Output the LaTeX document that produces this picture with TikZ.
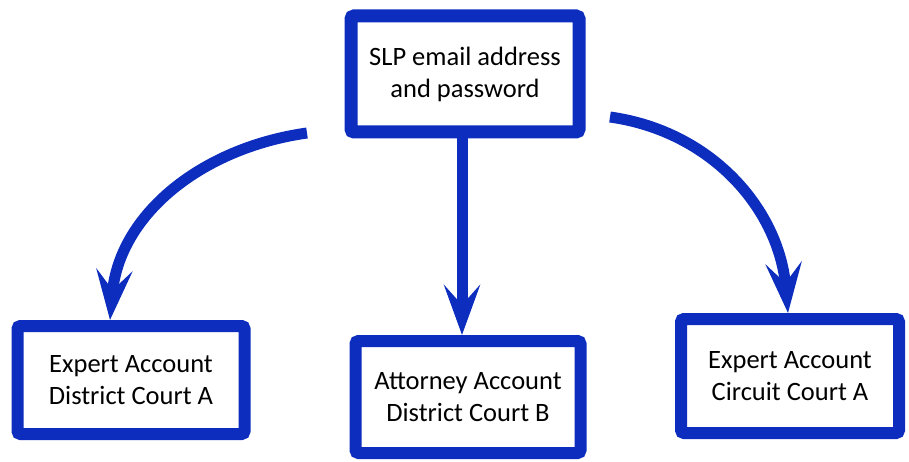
\documentclass[tikz,border=0pt]{standalone}
\usepackage{fontspec}
\setmainfont{Carlito}
\usetikzlibrary{arrows.meta}
\definecolor{penblue}{RGB}{12,45,190}
\tikzset{
  acct/.style={draw=penblue, line width=12pt, fill=white, rounded corners=3pt, align=center,
    inner sep=0pt, minimum width=227pt, minimum height=108pt, font=\fontsize{26.5}{32}\selectfont},
  flow/.style={draw=penblue, line width=11pt, -{Stealth[length=50pt,width=36pt,inset=20pt]}}
}

\begin{document}
\begin{tikzpicture}[x=1pt,y=1pt]
\useasboundingbox (0,0) rectangle (909,461);
\node[acct, line width=13pt, minimum width=228pt, minimum height=116pt] (slp) at (465,387) {SLP email address\\and password};
\node[acct] (expa) at (131,81) {Expert Account\\District Court A};
\node[acct, minimum width=225pt, minimum height=112pt] (atty) at (468,64) {Attorney Account\\District Court B};
\node[acct, minimum width=218pt, minimum height=114pt] (expc) at (790,85) {Expert Account\\Circuit Court A};
% arrows
\coordinate (lfrom) at (307,328);
\coordinate (rfrom) at (610,344);
\draw[flow] (lfrom) to[out=188,in=85] ([xshift=-21pt]expa.north);
\draw[flow] ([xshift=-3pt]slp.south) -- ([xshift=-6pt]atty.north);
\draw[flow] (rfrom) to[out=-8,in=95] ([xshift=-2pt]expc.north);
\end{tikzpicture}
\end{document}
